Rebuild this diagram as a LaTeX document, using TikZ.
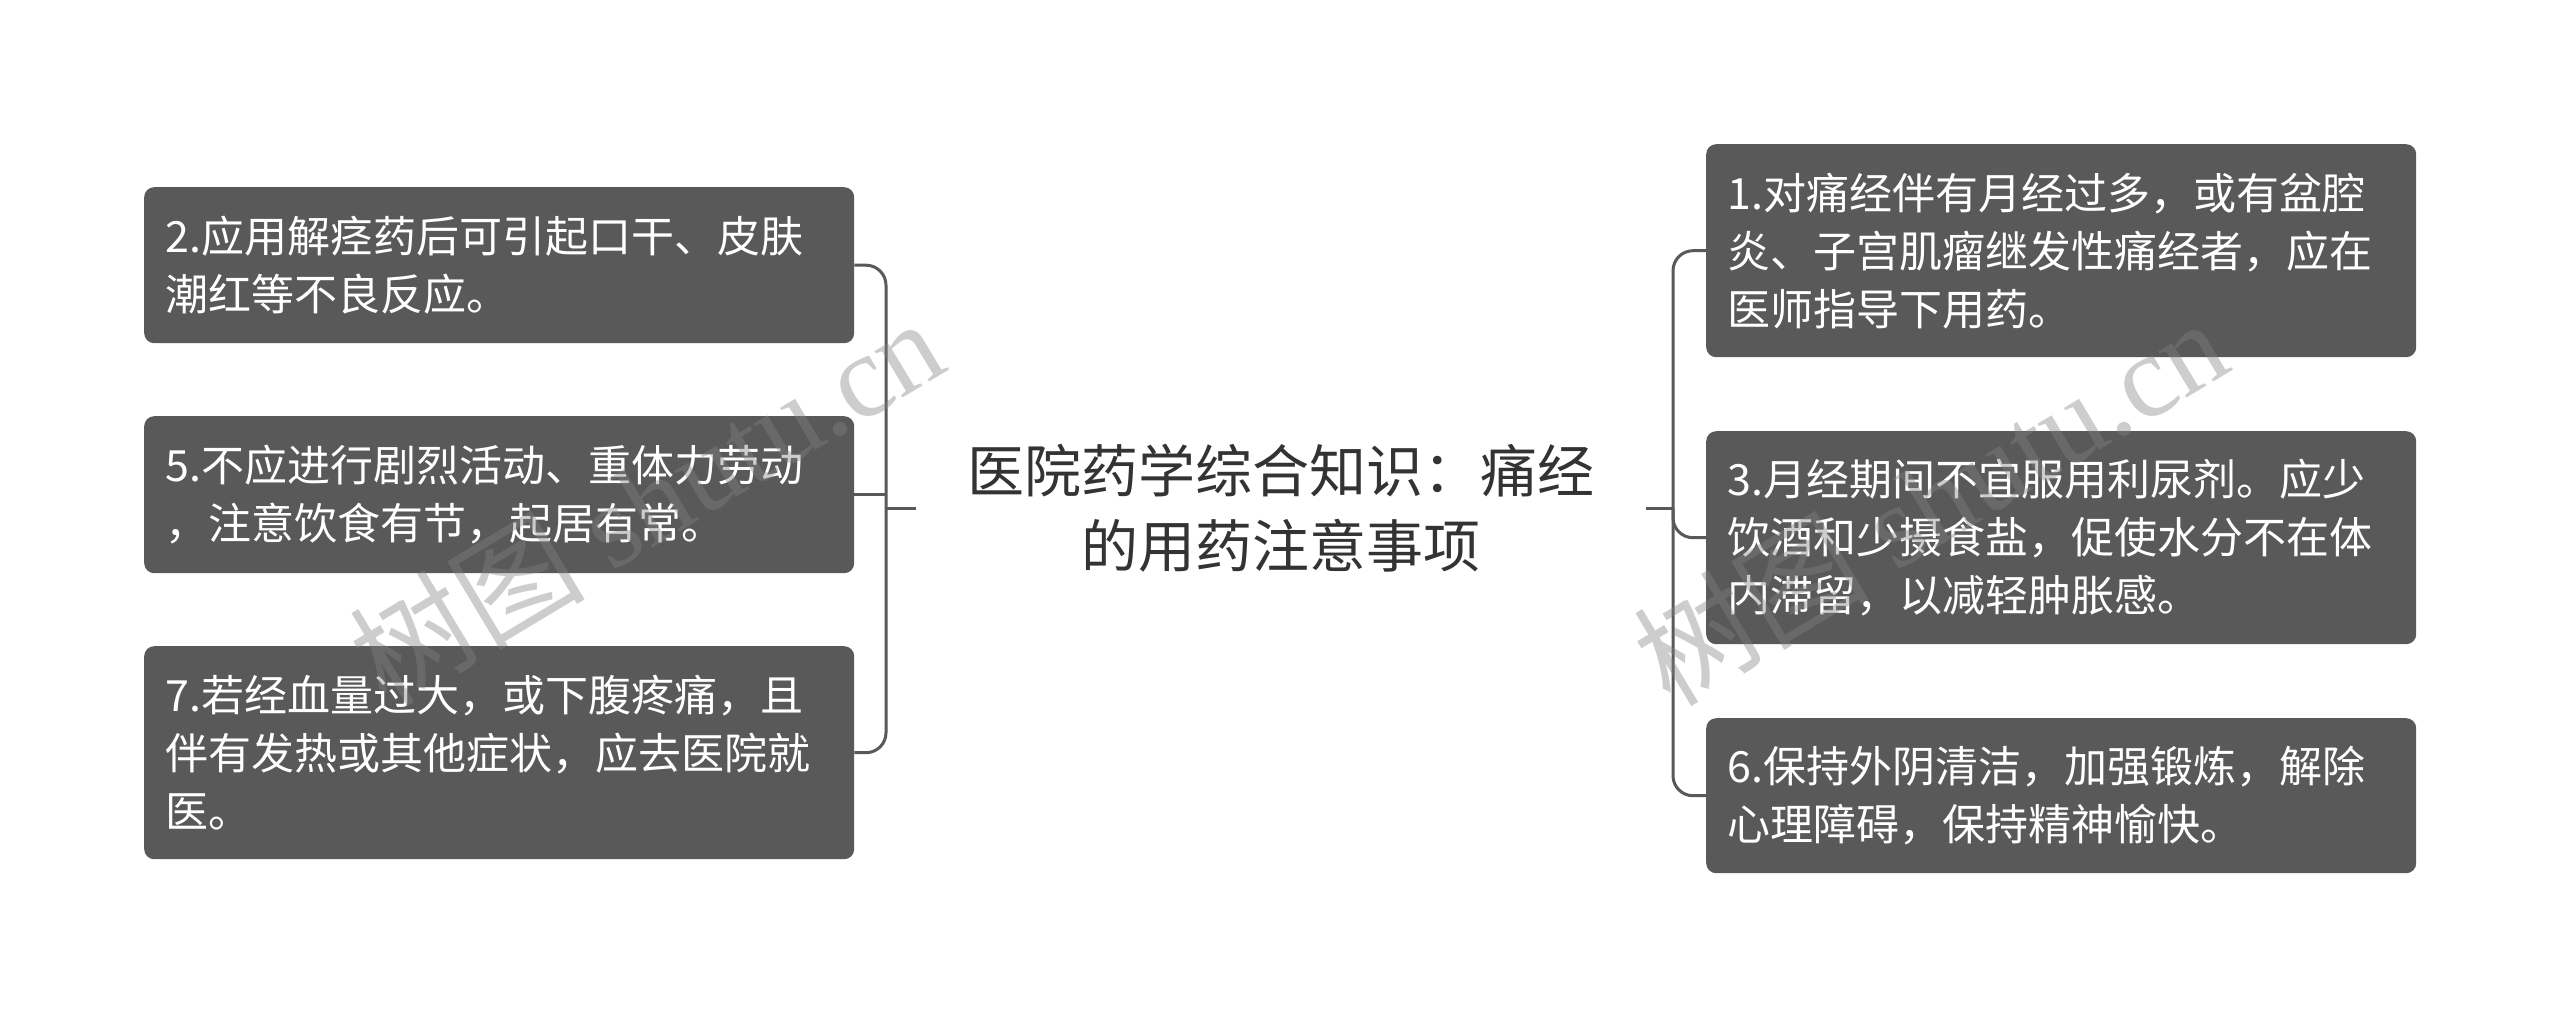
\documentclass[tikz,border=0pt]{standalone}
\usepackage{fontspec}
\newfontfamily\cjk{Noto Sans CJK SC}
\newfontfamily\wmserif{Liberation Serif}
\definecolor{boxgray}{HTML}{595959}
\definecolor{linegray}{HTML}{595959}
\definecolor{titlegray}{HTML}{333333}
\definecolor{wmgray}{HTML}{828282}
\begin{document}
\begin{tikzpicture}[x=1pt,y=-1pt,
  box/.style={fill=boxgray, rounded corners=10pt, text=white, inner xsep=21pt, inner ysep=0pt,
    text width=668pt, align=left, anchor=north west,
    font=\cjk\fontsize{43}{58}\selectfont},
  conn/.style={draw=linegray, line width=3pt},
  wm/.style={text=wmgray, opacity=0.4, font=\fontsize{118}{118}\selectfont, inner sep=0pt}]
\useasboundingbox (0,0) rectangle (2560,1017);
\fill[white] (0,0) rectangle (2560,1017);

\node[font=\cjk\fontsize{57}{75}\selectfont, text=titlegray, align=center, inner xsep=51pt, inner ysep=0pt]
  (root) at (1281,508.5) {医院药学综合知识：痛经\\的用药注意事项};

% left boxes
\node[box, minimum height=156pt] (l1) at (144,187) {2.应用解痉药后可引起口干、皮肤\\潮红等不良反应。};
\node[box, minimum height=157pt] (l2) at (144,416) {5.不应进行剧烈活动、重体力劳动\\，注意饮食有节，起居有常。};
\node[box, minimum height=213pt] (l3) at (144,646) {7.若经血量过大，或下腹疼痛，且\\伴有发热或其他症状，应去医院就\\医。};

% right boxes
\node[box, minimum height=213pt] (r1) at (1706,144) {1.对痛经伴有月经过多，或有盆腔\\炎、子宫肌瘤继发性痛经者，应在\\医师指导下用药。};
\node[box, minimum height=213pt] (r2) at (1706,431) {3.月经期间不宜服用利尿剂。应少\\饮酒和少摄食盐，促使水分不在体\\内滞留，以减轻肿胀感。};
\node[box, minimum height=155pt] (r3) at (1706,718) {6.保持外阴清洁，加强锻炼，解除\\心理障碍，保持精神愉快。};

% junctions
\coordinate (Lj) at (886,508.5);
\coordinate (Rj) at (1673,508.5);

% left connectors
\draw[conn] (root.west) -- (Lj);
\draw[conn, rounded corners=20pt] (l1.east) -| (Lj) |- (l3.east);
\draw[conn] (l2.east) -- (l2.east -| Lj);

% right connectors
\draw[conn] (root.east) -- (Rj);
\draw[conn, rounded corners=20pt] (r1.west) -| (Rj) |- (r3.west);
\draw[conn, rounded corners=20pt] (Rj) |- (r2.west);

% watermarks
\node[wm, rotate=31] (wm1) at (646,500) {\cjk 树图 \wmserif shutu.cn};
\node[wm, rotate=31] (wm2) at (1930,500) {\cjk 树图 \wmserif shutu.cn};
\end{tikzpicture}
\end{document}
